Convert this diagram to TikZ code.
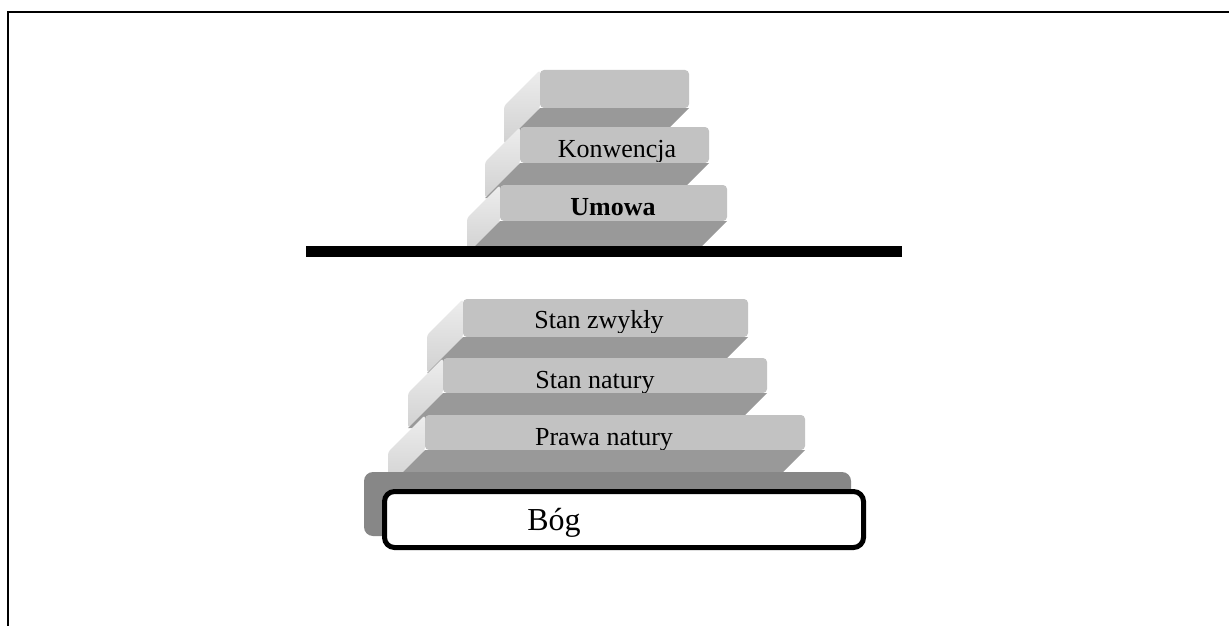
\documentclass[tikz,border=0pt]{standalone}
\usepackage{fontspec}
\setmainfont{Liberation Serif}
\definecolor{facefront}{gray}{0.76}
\definecolor{facebot}{gray}{0.60}
\definecolor{sidelight}{gray}{0.93}
\definecolor{sidedark}{gray}{0.82}
\definecolor{basegray}{gray}{0.53}
\newcommand\slabface[5]{%
  \shade[top color=sidelight,bottom color=sidedark,rounded corners=3]
    (#1,#2) -- (#1-#5,#2+#5) -- (#1-#5,#4+#5) -- (#1,#4) -- cycle;
  \fill[facefront,rounded corners=4] (#1,#2) rectangle (#3,#4);
}
\newcommand\slabbottom[5]{%
  \fill[facebot] (#1,#4) -- (#3,#4) -- (#3-#5,#4+#5) -- (#1-#5,#4+#5) -- cycle;
}
\tikzset{
  slabtext/.style={anchor=base,inner sep=0pt,font=\fontsize{26}{30}\selectfont},
}
\begin{document}
\begin{tikzpicture}[x=1pt,y=-1pt]
\useasboundingbox (0,0) rectangle (1229,626);
\fill[white] (0,0) rectangle (1229,626);
% frame
\draw[line width=2.6pt] (8,626) -- (8,12) -- (1229,12);

% upper stack
\slabface{540}{70}{689}{108}{36}
\slabbottom{540}{70}{689}{108}{36}

\slabface{520}{127}{709}{163}{35}
\begin{scope}
  \clip (520,120) rectangle (709,161);
  \node[slabtext] (konw) at (617,157) {Konwencja};
\end{scope}
\slabbottom{520}{127}{709}{163}{35}

\slabface{500}{185}{727}{221}{33}
\begin{scope}
  \clip (500,180) rectangle (727,219);
  \node[slabtext,font=\fontsize{26}{30}\selectfont\bfseries] (umowa) at (613,215) {Umowa};
\end{scope}
\slabbottom{500}{185}{727}{221}{33}

% separating bar
\fill[black] (306,246) rectangle (902,257);

% lower stack
\slabface{463}{299}{748}{337}{36}
\begin{scope}
  \clip (463,290) rectangle (748,332);
  \node[slabtext] (zwykly) at (599,328) {Stan zwykły};
\end{scope}
\slabbottom{463}{299}{748}{337}{36}

\slabface{443}{358}{767}{393}{35}
\begin{scope}
  \clip (443,350) rectangle (767,392);
  \node[slabtext] (natury) at (595,388) {Stan natury};
\end{scope}
\slabbottom{443}{358}{767}{393}{35}

\slabface{425}{415}{805}{450}{37}
\begin{scope}
  \clip (425,410) rectangle (805,449);
  \node[slabtext] (prawa) at (604,445) {Prawa natury};
\end{scope}
\slabbottom{425}{415}{805}{450}{37}

% base
\fill[basegray,rounded corners=9] (364,472) rectangle (851,536);
\draw[line width=5pt,fill=white,rounded corners=10] (384.5,491.5) rectangle (863.5,547.5);
\node[anchor=base,inner sep=0pt,font=\fontsize{32}{36}\selectfont] (bog) at (554,530) {Bóg};
\end{tikzpicture}
\end{document}
